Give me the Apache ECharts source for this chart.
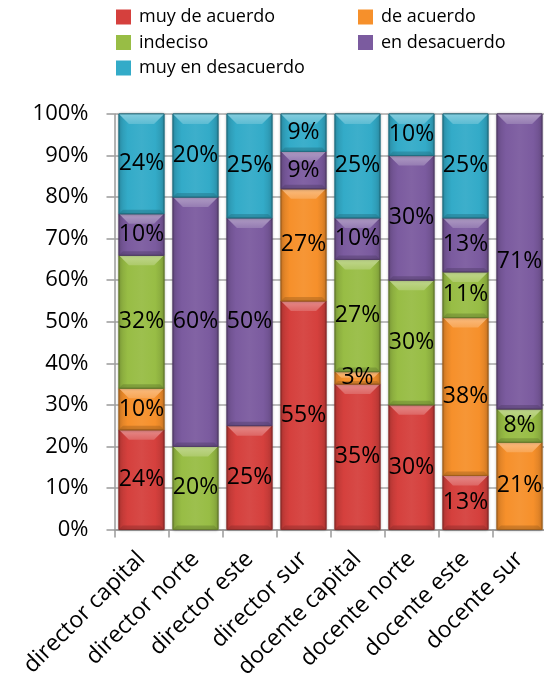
<!DOCTYPE html>
<html>
<head>
<meta charset="utf-8">
<script src="https://cdn.jsdelivr.net/npm/echarts@6/dist/echarts.min.js"></script>
<style>
  html, body { margin: 0; padding: 0; background: #fff; }
  #chart { width: 544px; height: 675px; }
</style>
</head>
<body>
<div id="chart"></div>
<script>
// Survey answers per group, in percent
const categories = ['director capital', 'director norte', 'director este', 'director sur',
                    'docente capital', 'docente norte', 'docente este', 'docente sur'];
const seriesNames = ['muy de acuerdo', 'de acuerdo', 'indeciso', 'en desacuerdo', 'muy en desacuerdo'];
const muyDeAcuerdo    = [24, 0, 25, 55, 35, 30, 13, 0];
const deAcuerdo       = [10, 0, 0, 27, 3, 0, 38, 21];
const indeciso        = [32, 20, 0, 0, 27, 30, 11, 8];
const enDesacuerdo    = [10, 60, 50, 9, 10, 30, 13, 71];
const muyEnDesacuerdo = [24, 20, 25, 9, 25, 10, 25, 0];
const yTicks = [0, 10, 20, 30, 40, 50, 60, 70, 80, 90, 100];

const seriesValues = [muyDeAcuerdo, deAcuerdo, indeciso, enDesacuerdo, muyEnDesacuerdo];
const baseColors = ['#d5403d', '#f6902b', '#98bd45', '#7b5b9f', '#33abc8'];

function hexToRgb(h) {
  const n = parseInt(h.slice(1), 16);
  return [(n >> 16) & 255, (n >> 8) & 255, n & 255];
}
function mix(hex, target, t) {
  const a = hexToRgb(hex), b = hexToRgb(target);
  const c = a.map((v, i) => Math.round(v + (b[i] - v) * t));
  return 'rgb(' + c.join(',') + ')';
}

// Stacked ranges: [category index, start, end, value]
function buildStack(seriesIndex) {
  const rows = [];
  for (let c = 0; c < categories.length; c++) {
    let start = 0;
    for (let s = 0; s < seriesIndex; s++) start += seriesValues[s][c];
    const v = seriesValues[seriesIndex][c];
    if (v > 0) rows.push([c, start, start + v, v]);
  }
  return rows;
}

// Beveled column segment: lit top facet, shaded sides, darker base edge
function makeRenderer(color) {
  const light = mix(color, '#ffffff', 0.4);
  const sideDark = mix(color, '#000000', 0.14);
  const bottomDark = mix(color, '#000000', 0.3);
  const edge = mix(color, '#000000', 0.35);
  const mid = mix(color, '#ffffff', 0.05);
  return function (params, api) {
    const cat = api.value(0), lo = api.value(1), hi = api.value(2), val = api.value(3);
    const pLo = api.coord([cat, lo]);
    const pHi = api.coord([cat, hi]);
    const bw = api.size([1, 0])[0] * 0.835;
    const xl = pLo[0] - bw / 2, xr = pLo[0] + bw / 2;
    const y0 = pLo[1], y1 = pHi[1];
    const h = y0 - y1;
    const b = Math.min(10, h / 2);
    const bb = Math.min(4, h / 4);
    return {
      type: 'group',
      children: [
        {
          type: 'rect',
          shape: { x: xl, y: y1, width: bw, height: h },
          style: {
            fill: new echarts.graphic.LinearGradient(0, 0, 1, 0, [
              { offset: 0, color: sideDark },
              { offset: 0.2, color: color },
              { offset: 0.5, color: mid },
              { offset: 0.8, color: color },
              { offset: 1, color: sideDark }
            ]),
            stroke: edge,
            lineWidth: 0.8,
            shadowBlur: 3,
            shadowColor: 'rgba(0,0,0,0.35)'
          }
        },
        {
          type: 'polygon',
          shape: { points: [[xl, y1], [xr, y1], [xr - b, y1 + b], [xl + b, y1 + b]] },
          style: {
            fill: new echarts.graphic.LinearGradient(0, 0, 0, 1, [
              { offset: 0, color: light },
              { offset: 1, color: mix(color, '#ffffff', 0.2) }
            ])
          }
        },
        {
          type: 'polygon',
          shape: { points: [[xl, y0], [xr, y0], [xr - bb, y0 - bb], [xl + bb, y0 - bb]] },
          style: { fill: bottomDark, opacity: 0.5 }
        },
        {
          type: 'rect',
          shape: { x: xl, y: y1, width: bw, height: h },
          style: { fill: 'none', stroke: edge, lineWidth: 0.8 }
        },
        {
          type: 'text',
          z2: 100,
          x: pLo[0],
          y: (y0 + y1) / 2,
          style: {
            text: val + '%',
            fill: '#000',
            font: '23px "Open Sans"',
            align: 'center',
            verticalAlign: 'middle'
          }
        }
      ]
    };
  };
}

const chart = echarts.init(document.getElementById('chart'), null, { renderer: 'canvas' });

const series = seriesNames.map((name, i) => ({
  name: name,
  type: 'custom',
  renderItem: makeRenderer(baseColors[i]),
  itemStyle: { color: baseColors[i] },
  encode: { x: 0, y: [1, 2] },
  data: buildStack(i),
  z: 2
}));

const legendCommon = {
  orient: 'vertical',
  icon: 'rect',
  itemWidth: 15,
  itemHeight: 15,
  itemGap: 7.5,
  selectedMode: false,
  textStyle: { fontFamily: 'Open Sans', fontSize: 18, color: '#000', padding: [0, 0, 0, 3] }
};

chart.setOption({
  animation: false,
  textStyle: { fontFamily: 'Open Sans' },
  legend: [
    Object.assign({}, legendCommon, { left: 111, top: 3, data: [seriesNames[0], seriesNames[2], seriesNames[4]] }),
    Object.assign({}, legendCommon, { left: 353, top: 3, data: [seriesNames[1], seriesNames[3]] })
  ],
  grid: { left: 114.5, right: -2.5, top: 114, bottom: 145.5, containLabel: false, outerBoundsMode: 'none' },
  xAxis: {
    type: 'category',
    data: categories,
    axisLine: { lineStyle: { color: '#9a9a9a', width: 1.5 } },
    axisTick: { show: true, length: 8, lineStyle: { color: '#9a9a9a', width: 1.5 } },
    axisLabel: {
      interval: 0,
      rotate: 45,
      margin: 26,
      color: '#000',
      fontFamily: 'Open Sans',
      fontSize: 23
    }
  },
  yAxis: {
    type: 'value',
    min: yTicks[0],
    max: yTicks[yTicks.length - 1],
    interval: yTicks[1] - yTicks[0],
    axisLine: { show: true, lineStyle: { color: '#9a9a9a', width: 1.5 } },
    axisTick: { show: true, length: 8, lineStyle: { color: '#9a9a9a', width: 1.5 } },
    splitLine: { lineStyle: { color: '#a8a8a8', width: 1.5 } },
    axisLabel: {
      margin: 26,
      color: '#000',
      fontFamily: 'Open Sans',
      fontSize: 22,
      formatter: '{value}%'
    }
  },
  series: series
});
</script>
</body>
</html>
